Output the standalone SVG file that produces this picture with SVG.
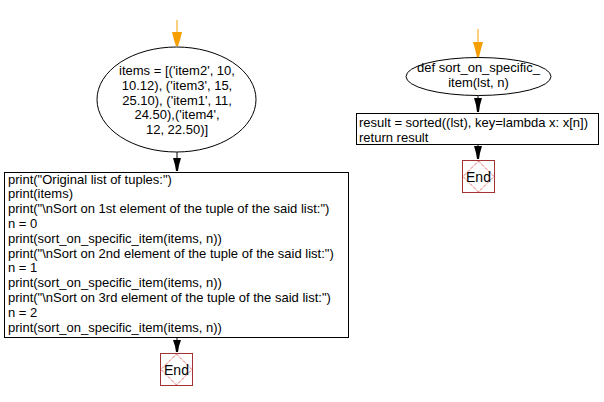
<svg xmlns="http://www.w3.org/2000/svg" width="604" height="402" viewBox="0 0 604 402">
<style>
text{font-family:"Liberation Sans",Arial,sans-serif;font-size:13px;fill:#000}
.c{text-anchor:middle}
.shape{fill:#fff;stroke:#000;stroke-width:1}
.endbox{fill:#fff;stroke:#a33333;stroke-width:1}
.dia{fill:none;stroke:#d02020;stroke-width:1;stroke-dasharray:1,1}
.endt{font-size:14px;text-anchor:middle}
.ln{stroke:#000;stroke-width:1}
.lno{stroke:#f5a000;stroke-width:1}
</style>
<rect width="604" height="402" fill="#fff"/>
<g id="connectors">
  <line class="lno" x1="177" y1="20" x2="177" y2="34"/>
  <polygon fill="#f5a000" points="172,32 182,32 180,40 178,46 176,46 174,40"/>
  <line class="ln" x1="177" y1="152" x2="177" y2="160"/>
  <polygon fill="#000" points="173,158 181,158 179,165 178,171 176,171 175,165"/>
  <line class="ln" x1="177" y1="338" x2="177" y2="342"/>
  <polygon fill="#000" points="173,340 181,340 179,346 178,352 176,352 175,346"/>
  <line class="lno" x1="478" y1="29" x2="478" y2="44"/>
  <polygon fill="#f5a000" points="473,42 483,42 481,49 479,57 477,57 475,49"/>
  <line class="ln" x1="478" y1="95" x2="478" y2="100"/>
  <polygon fill="#000" points="474,98 482,98 480,105 479,112 477,112 476,105"/>
  <line class="ln" x1="478" y1="145" x2="478" y2="148"/>
  <polygon fill="#000" points="474,146 482,146 480,153 479,159 477,159 476,153"/>
</g>
<g id="items">
  <ellipse class="shape" cx="176.5" cy="99.5" rx="79.5" ry="52.5"/>
  <text class="c" x="177" y="75">items = [('item2', 10,</text>
  <text class="c" x="177" y="90">10.12), ('item3', 15,</text>
  <text class="c" x="177" y="104.5">25.10), ('item1', 11,</text>
  <text class="c" x="177" y="119">24.50),('item4',</text>
  <text class="c" x="177" y="134">12, 22.50)]</text>
</g>
<g id="main">
  <rect class="shape" x="4.5" y="172.5" width="344" height="165"/>
  <text x="8" y="183.5">print("Original list of tuples:")</text>
  <text x="8" y="198.3">print(items)</text>
  <text x="8" y="213.1">print("\nSort on 1st element of the tuple of the said list:")</text>
  <text x="8" y="227.9">n = 0</text>
  <text x="8" y="242.7">print(sort_on_specific_item(items, n))</text>
  <text x="8" y="257.5">print("\nSort on 2nd element of the tuple of the said list:")</text>
  <text x="8" y="272.3">n = 1</text>
  <text x="8" y="287.1">print(sort_on_specific_item(items, n))</text>
  <text x="8" y="301.9">print("\nSort on 3rd element of the tuple of the said list:")</text>
  <text x="8" y="316.7">n = 2</text>
  <text x="8" y="331.5">print(sort_on_specific_item(items, n))</text>
</g>
<g id="end1">
  <rect class="endbox" x="160.5" y="353.5" width="32" height="32"/>
  <polygon class="dia" points="176.5,354 192,369.5 176.5,385 161,369.5"/>
  <text class="endt" x="176.5" y="375">End</text>
</g>
<g id="def">
  <ellipse class="shape" cx="478.5" cy="76.5" rx="72.5" ry="19"/>
  <text class="c" x="478.5" y="71.5">def sort_on_specific_</text>
  <text class="c" x="478.5" y="86.5">item(lst, n)</text>
</g>
<g id="body">
  <rect class="shape" x="356.5" y="113.5" width="242" height="31"/>
  <text x="359" y="127">result = sorted((lst), key=lambda x: x[n])</text>
  <text x="359" y="141.5">return result</text>
</g>
<g id="end2">
  <rect class="endbox" x="462.5" y="160.5" width="32" height="32"/>
  <polygon class="dia" points="478.5,161 494,176.5 478.5,192 463,176.5"/>
  <text class="endt" x="478.5" y="182">End</text>
</g>
</svg>
